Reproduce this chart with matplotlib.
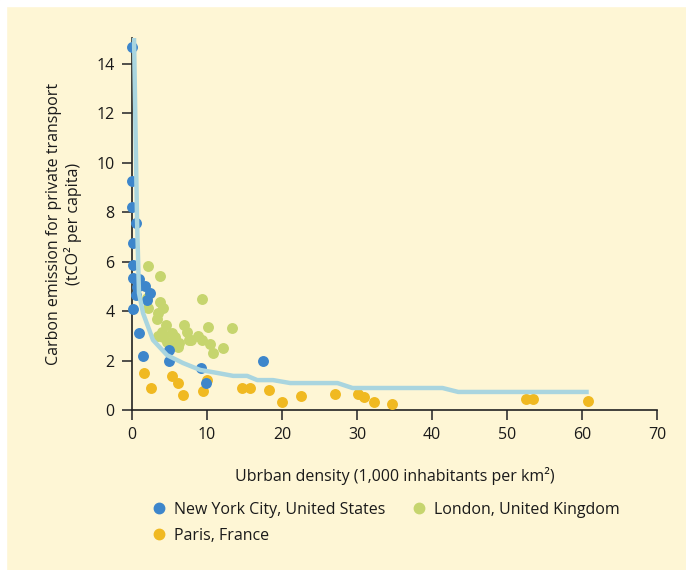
import numpy as np
import matplotlib.pyplot as plt
from matplotlib.lines import Line2D
from matplotlib.patches import Rectangle

plt.rcParams['font.family'] = ['Open Sans', 'DejaVu Sans']

# New York City (x: 1,000 inhabitants per km2, y: tCO2 per capita)
nyc_x = [0.0, 0.0, 0.0, 0.53, 0.13, 0.13, 0.13, 0.93, 0.67, 1.74, 2.4, 0.53, 2.0,
         0.13, 0.93, 1.47, 4.94, 4.94, 9.2, 9.88, 17.5]
nyc_y = [14.68, 9.25, 8.2, 7.56, 6.76, 5.87, 5.34, 5.3, 4.98, 5.02, 4.73, 4.65, 4.45,
         4.09, 3.11, 2.18, 2.43, 1.98, 1.7, 1.09, 1.98]

# London
lon_x = [2.14, 3.74, 2.0, 9.35, 3.74, 2.14, 4.14, 3.47, 3.34, 4.54, 6.94, 10.1, 13.35,
         4.0, 5.34, 7.34, 8.8, 4.14, 5.74, 7.6, 9.35, 4.67, 6.27, 10.4, 6.14, 12.15,
         10.8, 3.4, 5.0, 7.9]
lon_y = [5.83, 5.42, 4.53, 4.49, 4.37, 4.13, 4.13, 3.92, 3.68, 3.44, 3.44, 3.36, 3.32,
         3.16, 3.11, 3.16, 2.99, 2.95, 2.95, 2.83, 2.83, 2.75, 2.71, 2.67, 2.55, 2.51,
         2.31, 3.0, 2.6, 2.85]

# Paris
par_x = [1.6, 2.5, 5.34, 6.14, 6.8, 9.5, 10.0, 14.7, 15.75, 18.3, 20.0, 22.5, 27.1,
         30.2, 31.0, 32.2, 34.7, 52.5, 53.5, 60.8]
par_y = [1.5, 0.9, 1.38, 1.09, 0.61, 0.77, 1.21, 0.89, 0.89, 0.81, 0.32, 0.57, 0.65,
         0.65, 0.53, 0.32, 0.24, 0.44, 0.44, 0.36]

# fitted curve
fit_x = [0.27, 0.67, 0.93, 1.47, 2.8, 4.67, 6.8, 9.1, 11.35, 13.5, 15.35, 16.7, 18.8,
         21.1, 27.4, 29.4, 41.4, 43.5, 60.9]
fit_y = [15.05, 7.7, 4.73, 3.92, 2.83, 2.22, 1.9, 1.62, 1.5, 1.38, 1.38, 1.21, 1.21,
         1.09, 1.09, 0.89, 0.89, 0.73, 0.73]

bg = '#fef6d5'
c_nyc = '#3d86cb'
c_lon = '#c6d56e'
c_par = '#f0b921'
c_fit = '#a9d5df'

fig = plt.figure(figsize=(6.86, 5.70), dpi=100)
fig.patch.set_facecolor(bg)
# white strip on top and left
fig.add_artist(Rectangle((0, 0), 6 / 686, 1, transform=fig.transFigure, color='white', zorder=0))
fig.add_artist(Rectangle((0, 1 - 6 / 570), 1, 6 / 570, transform=fig.transFigure, color='white', zorder=0))

ax = fig.add_axes([132 / 686, 160 / 570, 525 / 686, 372 / 570])
ax.set_facecolor(bg)

ms = 62
ax.scatter(par_x, par_y, s=ms, color=c_par, linewidths=0, clip_on=False, zorder=3)
ax.scatter(lon_x, lon_y, s=ms, color=c_lon, linewidths=0, clip_on=False, zorder=3)
ax.scatter(nyc_x, nyc_y, s=ms, color=c_nyc, linewidths=0, clip_on=False, zorder=3)
ax.plot(fit_x, fit_y, color=c_fit, lw=3.2, solid_capstyle='butt', zorder=4, clip_on=False)

ax.set_xlim(0, 70)
ax.set_ylim(0, 15.05)
ax.set_xticks(range(0, 71, 10))
ax.set_yticks(range(0, 15, 2))
for s in ['top', 'right']:
    ax.spines[s].set_visible(False)
for s in ['left', 'bottom']:
    ax.spines[s].set_color('#222222')
    ax.spines[s].set_linewidth(1.2)
ax.tick_params(direction='out', length=7.5, width=1.2, color='#333333',
               labelsize=11.5, labelcolor='#1a1a1a', pad=5)

ax.set_xlabel('Ubrban density (1,000 inhabitants per km²)', fontsize=11.5,
              color='#1a1a1a', labelpad=17)
ax.set_ylabel('Carbon emission for private transport\n(tCO² per capita)',
              fontsize=11.5, color='#1a1a1a', labelpad=10, linespacing=1.2)

# legend
handles = [
    Line2D([], [], marker='o', ls='', color=c_nyc, markersize=7.5, label='New York City, United States'),
    Line2D([], [], marker='o', ls='', color=c_par, markersize=7.5, label='Paris, France'),
    Line2D([], [], marker='o', ls='', color=c_lon, markersize=7.5, label='London, United Kingdom'),
]
fig.legend(handles=handles, ncol=2, loc='upper left', bbox_to_anchor=(151 / 686, 1 - 502 / 570),
           frameon=False, fontsize=11.5, handletextpad=0.45, columnspacing=1.6,
           labelspacing=0.6, handlelength=1.0, borderaxespad=0, borderpad=0,
           labelcolor='#1a1a1a')

fig.savefig('out.png', dpi=100, facecolor=bg)
